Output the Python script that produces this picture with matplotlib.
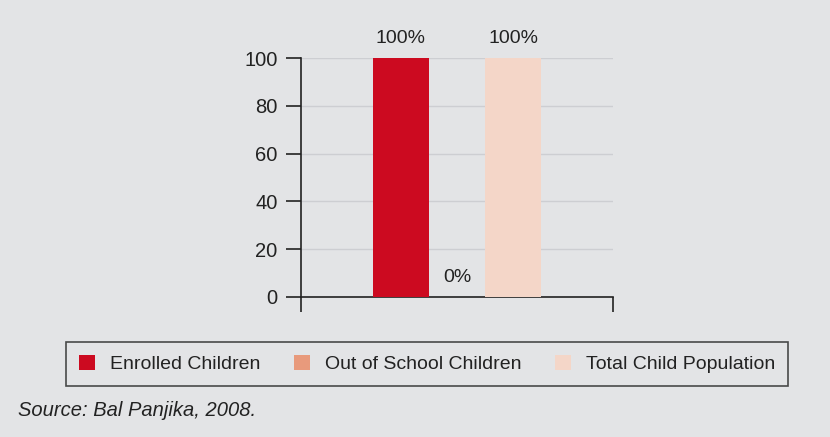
import matplotlib.pyplot as plt

series = ["Enrolled Children", "Out of School Children", "Total Child Population"]
values = [100, 0, 100]
labels = ["100%", "0%", "100%"]
colors = ["#cc0a20", "#e89a7c", "#f4d6c8"]
yticks = [0, 20, 40, 60, 80, 100]

bg = "#e3e4e6"
plt.rcParams['font.family'] = ['Liberation Sans', 'DejaVu Sans']

fig = plt.figure(figsize=(8.3, 4.37), dpi=100, facecolor=bg)
ax = fig.add_axes([301 / 830, 1 - 297 / 437, 312 / 830, 239 / 437])
ax.set_facecolor(bg)

width = 0.18
handles = []
for i, (name, v, lab, c) in enumerate(zip(series, values, labels, colors)):
    x = (i - 1) * width
    b = ax.bar(x, v, width=width, color=c, label=name, zorder=3)
    handles.append(b)
    ax.annotate(lab, (x, v), xytext=(0, 8), textcoords="offset points",
                ha="center", va="bottom", fontsize=14, color="#222222",
                annotation_clip=False)

ax.set_xlim(-0.5, 0.5)
ax.set_ylim(0, 100)
ax.set_yticks(yticks)
ax.set_xticks([-0.5, 0.5])
ax.set_xticklabels([])
ax.tick_params(axis="y", labelsize=14.5, length=11, width=1.2, color="#222222",
               labelcolor="#222222", pad=6)
ax.tick_params(axis="x", length=11, width=1.2, color="#222222", direction="out")
ax.grid(axis="y", color="#cdced2", linewidth=1, zorder=0)
for s in ["top", "right"]:
    ax.spines[s].set_visible(False)
for s in ["left", "bottom"]:
    ax.spines[s].set_linewidth(1.2)
    ax.spines[s].set_color("#222222")

leg = fig.legend(handles=handles, labels=series, ncol=3, loc="upper left",
                 bbox_to_anchor=(66 / 830, 1 - 342 / 437),
                 frameon=True, fancybox=False, fontsize=14,
                 handlelength=0.82, handleheight=0.82, handletextpad=0.8,
                 columnspacing=1.7, borderpad=0.65, borderaxespad=0)
leg.get_frame().set_edgecolor("#222222")
leg.get_frame().set_facecolor(bg)
leg.get_frame().set_linewidth(1.2)
for t in leg.get_texts():
    t.set_color("#222222")

fig.text(18 / 830, 1 - 411 / 437, "Source: Bal Panjika, 2008.", fontsize=14.5,
         style="italic", va="center", ha="left", color="#222222")

plt.savefig("out.png", dpi=100, facecolor=bg)
